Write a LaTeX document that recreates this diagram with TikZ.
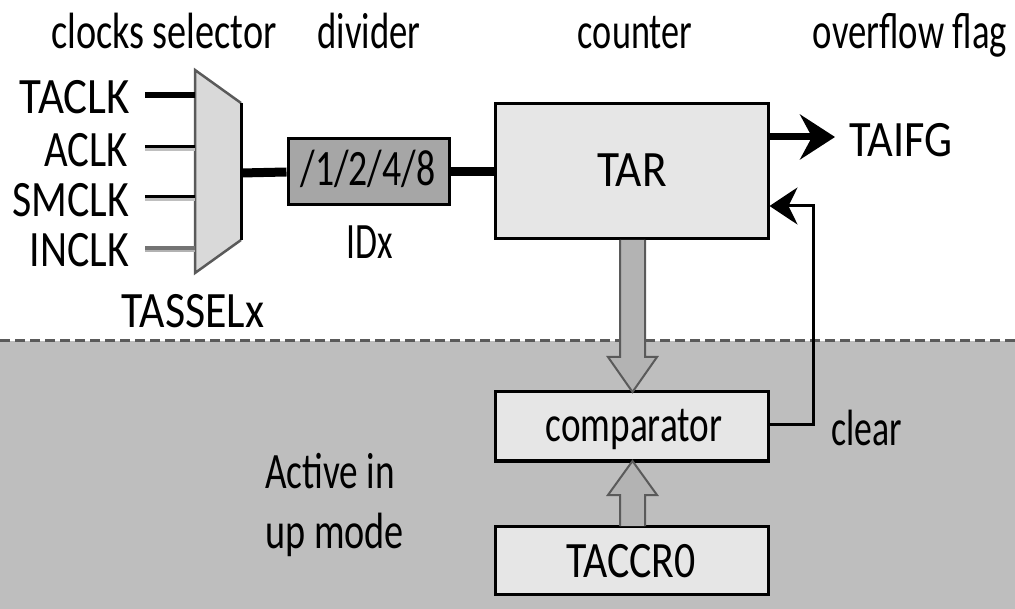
\documentclass[tikz,border=0pt]{standalone}
\usepackage{fontspec}
\setmainfont{Carlito}
\usetikzlibrary{arrows.meta}
\newcommand\sq[2]{\scalebox{#1}[1]{#2}}
\definecolor{shadegray}{HTML}{BEBEBE}
\definecolor{boxfill}{HTML}{E6E6E6}
\definecolor{divfill}{HTML}{A6A6A6}
\definecolor{muxfill}{HTML}{D9D9D9}
\definecolor{shaftfill}{HTML}{B3B3B3}
\definecolor{edgegray}{HTML}{5A5A5A}
\begin{document}
\begin{tikzpicture}[x=1pt,y=-1pt,
  lbl/.style={inner sep=0pt, font=\fontsize{51}{56}\selectfont, anchor=base},
  blk/.style={draw=black, line width=3pt, fill=boxfill, inner sep=0pt},
  bus/.style={line width=9pt},
  hollow/.style={fill=shaftfill, draw=edgegray, line width=2pt, line join=miter}]
\useasboundingbox (0,0) rectangle (1015,609);
% shaded region
\fill[shadegray] (0,341) rectangle (1015,609);
\draw[edgegray, line width=3pt, dash pattern=on 10pt off 5pt] (0,341) -- (1015,341);

% headings
\node[lbl] (h1) at (164,49) {\sq{0.75}{clocks selector}};
\node[lbl] (h2) at (369,49) {\sq{0.72}{divider}};
\node[lbl] (h3) at (635,49) {\sq{0.71}{counter}};
\node[lbl] (h4) at (910,49) {\sq{0.72}{overflow flag}};

% inputs
\node[lbl, anchor=base east] (taclk) at (130,114) {\sq{0.88}{TACLK}};
\node[lbl, anchor=base east] (aclk) at (128,167) {\sq{0.80}{ACLK}};
\node[lbl, anchor=base east] (smclk) at (129,217) {\sq{0.82}{SMCLK}};
\node[lbl, anchor=base east] (inclk) at (129,267) {\sq{0.82}{INCLK}};

% mux
\coordinate (m1) at (195,70);
\coordinate (m2) at (241,103);
\coordinate (m3) at (241,240);
\coordinate (m4) at (195,273);
\coordinate (mout) at (241,173);
\fill[muxfill] (m1) -- (m2) -- (m3) -- (m4) -- cycle;
\draw[edgegray, line width=2.5pt] (m2) -- (m1) -- (m4) -- (m3);
\draw[black, line width=3pt] (m2) -- (m3);

\draw[line width=6pt] (145,95) -- (195,95);
\draw[black!25, line width=3pt] (145,150) -- (195,150);
\draw[black, line width=3pt] (145,147) -- (195,147);
\draw[black!25, line width=3pt] (145,200) -- (195,200);
\draw[black, line width=3pt] (145,197) -- (195,197);
\draw[black!30, line width=3pt] (145,251) -- (195,251);
\draw[black!55, line width=4pt] (145,248) -- (195,248);

\node[lbl] (tassel) at (193,328) {\sq{0.86}{TASSELx}};

% divider
\node[blk, fill=divfill, minimum width=161pt, minimum height=66pt] (div) at (368.5,172) {};
\node[lbl] (divt) at (368,186) {\sq{0.74}{/1/2/4/8}};
\node[lbl] (idx) at (370,259) {\sq{0.70}{IDx}};

% counter
\node[blk, minimum width=273pt, minimum height=135pt] (tar) at (631.5,171.5) {};
\node[lbl] (tart) at (632,187) {\sq{0.89}{TAR}};

% comparator & TACCR0
\node[blk, minimum width=273pt, minimum height=69pt] (cmp) at (631.5,426.5) {};
\node[lbl] (cmpt) at (634,442) {\sq{0.73}{comparator}};
\node[blk, minimum width=273pt, minimum height=68pt] (ccr) at (631.5,560) {};
\node[lbl] (ccrt) at (631,577) {\sq{0.82}{TACCR0}};

% buses
\draw[bus] (mout) -- (div.west);
\draw[bus] (div.east) -- (tar.west |- div.east);

% TAIFG
\node[lbl] (taifg) at (901,157) {\sq{0.87}{TAIFG}};
\draw[line width=7pt, -{Stealth[length=35pt,width=45pt,inset=12pt]}] ([yshift=34.5pt]tar.east) -- ([yshift=34.5pt]tar.east -| 835,0);

% clear feedback
\node[lbl] (clr) at (867,446) {\sq{0.70}{clear}};
\draw[line width=3pt, -{Stealth[length=28pt,width=37pt,inset=9pt]}, line join=miter]
  ([yshift=1.5pt]cmp.east) -| (813,206) -- ([yshift=-34.5pt]tar.east);

% hollow arrows
\draw[hollow] (620,240) -- (620,357) -- (608,357) -- (632.5,392) -- (657,357) -- (645,357) -- (645,240);
\draw[hollow] (620,526) -- (620,495) -- (608,495) -- (632.5,461) -- (657,495) -- (645,495) -- (645,526);

% active text
\node[lbl, anchor=base west] (act1) at (265,488) {\sq{0.73}{Active in}};
\node[lbl, anchor=base west] (act2) at (265,548) {\sq{0.75}{up mode}};
\end{tikzpicture}
\end{document}
